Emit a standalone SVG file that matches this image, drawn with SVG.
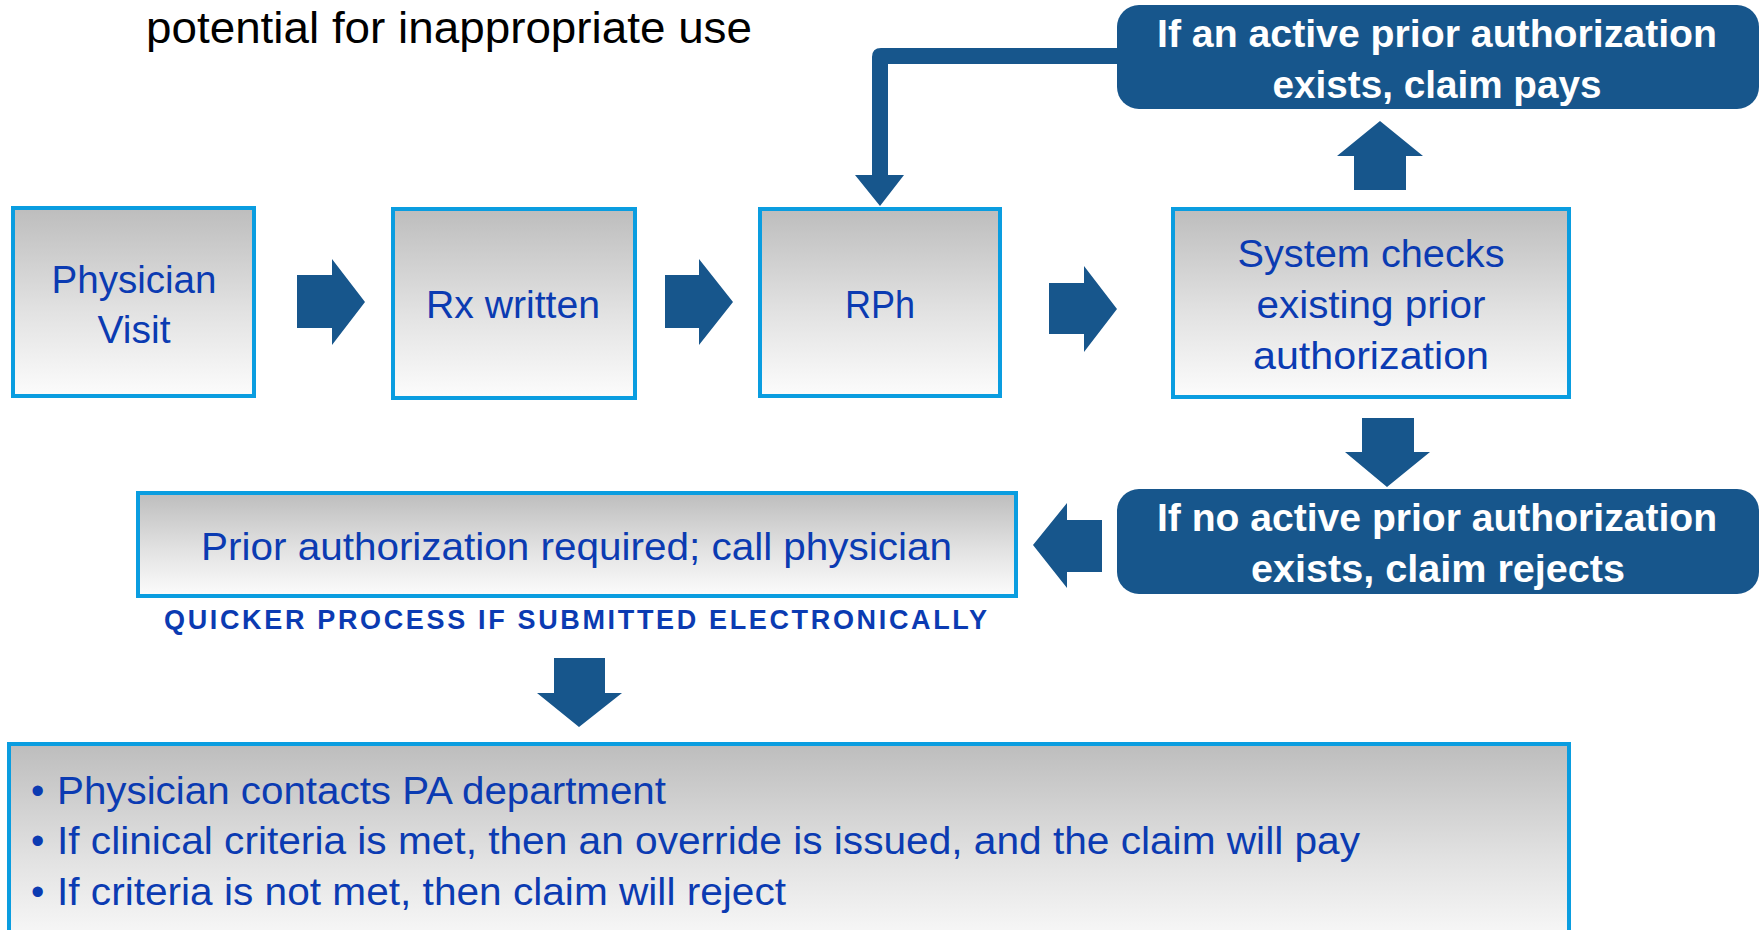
<svg xmlns="http://www.w3.org/2000/svg" width="1763" height="930" viewBox="0 0 1763 930">
  <defs>
    <linearGradient id="grey" x1="0" y1="0" x2="0" y2="1">
      <stop offset="0" stop-color="#bdbdbd"/>
      <stop offset="0.55" stop-color="#e2e2e2"/>
      <stop offset="1" stop-color="#fcfcfc"/>
    </linearGradient>
    <style>
      .box { fill: url(#grey); stroke: #0a9de0; stroke-width: 4; }
      .dark { fill: #17568c; }
      .arrow { fill: #17568c; }
      .t { font-family: "Liberation Sans", Arial, sans-serif; font-size: 38px; fill: #0b3bb2; text-anchor: middle; }
      .tl { font-family: "Liberation Sans", Arial, sans-serif; font-size: 38px; fill: #0b3bb2; }
      .w { font-family: "Liberation Sans", Arial, sans-serif; font-size: 38px; font-weight: bold; fill: #ffffff; text-anchor: middle; }
      .note { font-family: "Liberation Sans", Arial, sans-serif; font-size: 27px; font-weight: bold; fill: #0b3bb2; text-anchor: middle; }
      .title { font-family: "Liberation Sans", Arial, sans-serif; font-size: 44px; fill: #000000; }
    </style>
  </defs>
  <rect width="1763" height="930" fill="#ffffff"/>

  <text class="title" x="146" y="43" textLength="606" lengthAdjust="spacingAndGlyphs">potential for inappropriate use</text>

  <g id="physician-visit">
    <rect class="box" x="13" y="208" width="241" height="188"/>
    <text class="t" x="134" y="293" textLength="165" lengthAdjust="spacingAndGlyphs">Physician</text>
    <text class="t" x="134" y="343" textLength="73" lengthAdjust="spacingAndGlyphs">Visit</text>
  </g>

  <g id="rx-written">
    <rect class="box" x="393" y="209" width="242" height="189"/>
    <text class="t" x="513" y="318" textLength="174" lengthAdjust="spacingAndGlyphs">Rx written</text>
  </g>

  <g id="rph">
    <rect class="box" x="760" y="209" width="240" height="187"/>
    <text class="t" x="880" y="318" textLength="70" lengthAdjust="spacingAndGlyphs">RPh</text>
  </g>

  <g id="system-checks">
    <rect class="box" x="1173" y="209" width="396" height="188"/>
    <text class="t" x="1371" y="267" textLength="267" lengthAdjust="spacingAndGlyphs">System checks</text>
    <text class="t" x="1371" y="318" textLength="229" lengthAdjust="spacingAndGlyphs">existing prior</text>
    <text class="t" x="1371" y="369" textLength="236" lengthAdjust="spacingAndGlyphs">authorization</text>
  </g>

  <g id="claim-pays">
    <rect class="dark" x="1117" y="5" width="642" height="104" rx="22" ry="22"/>
    <text class="w" x="1437" y="47" textLength="560" lengthAdjust="spacingAndGlyphs">If an active prior authorization</text>
    <text class="w" x="1437" y="98" textLength="329" lengthAdjust="spacingAndGlyphs">exists, claim pays</text>
  </g>

  <g id="claim-rejects">
    <rect class="dark" x="1117" y="489" width="642" height="105" rx="22" ry="22"/>
    <text class="w" x="1437" y="531" textLength="560" lengthAdjust="spacingAndGlyphs">If no active prior authorization</text>
    <text class="w" x="1438" y="582" textLength="374" lengthAdjust="spacingAndGlyphs">exists, claim rejects</text>
  </g>

  <g id="pa-required">
    <rect class="box" x="138" y="493" width="878" height="103"/>
    <text class="t" x="576.5" y="560" textLength="751" lengthAdjust="spacingAndGlyphs">Prior authorization required; call physician</text>
    <text class="note" x="575.5" y="629" textLength="823" lengthAdjust="spacing">QUICKER PROCESS IF SUBMITTED ELECTRONICALLY</text>
  </g>

  <g id="pa-process">
    <rect class="box" x="9" y="744" width="1560" height="210"/>
    <text class="tl" y="804"><tspan x="31">•</tspan><tspan x="57" textLength="609" lengthAdjust="spacingAndGlyphs">Physician contacts PA department</tspan></text>
    <text class="tl" y="854"><tspan x="31">•</tspan><tspan x="57" textLength="1303" lengthAdjust="spacingAndGlyphs">If clinical criteria is met, then an override is issued, and the claim will pay</tspan></text>
    <text class="tl" y="905"><tspan x="31">•</tspan><tspan x="57" textLength="729" lengthAdjust="spacingAndGlyphs">If criteria is not met, then claim will reject</tspan></text>
  </g>

  <g id="connectors">
    <path class="arrow" d="M297,275 H332 V259 L365,302 L332,345 V328 H297 Z"/>
    <path class="arrow" d="M665,275 H699 V259 L733,302 L699,345 V328 H665 Z"/>
    <path class="arrow" d="M1049,283 H1084 V266 L1117,309 L1084,352 V334 H1049 Z"/>
    <path class="arrow" d="M1354,190 V156 H1337 L1380,121 L1423,156 H1406 V190 Z"/>
    <path class="arrow" d="M1362,418 H1414 V452 H1430 L1387,487 L1345,452 H1362 Z"/>
    <path class="arrow" d="M1102,520 V572 H1067 V588 L1033,545 L1067,503 V520 Z"/>
    <path class="arrow" d="M554,658 H605 V693 H622 L579,727 L537,693 H554 Z"/>
    <path class="arrow" d="M1118,48 H881 Q872,48 872,57 V175 H855 L880,206 L904,175 H888 V64 H1118 Z"/>
  </g>
</svg>
